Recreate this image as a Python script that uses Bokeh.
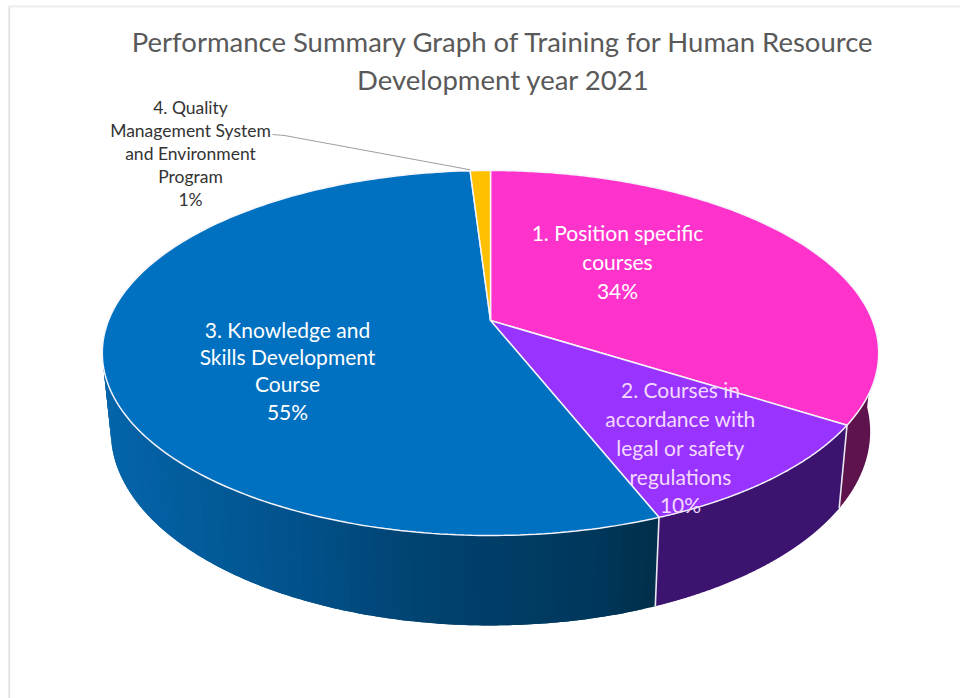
import numpy as np
from bokeh.plotting import figure
from bokeh.embed import file_html
from bokeh.resources import INLINE
from bokeh.core.properties import value

title_lines = ["Performance Summary Graph of Training for Human Resource", "Development year 2021"]
categories = ["1. Position specific courses",
              "2. Courses in accordance with legal or safety regulations",
              "3. Knowledge and Skills Development Course",
              "4. Quality Management System and Environment Program"]
shares = [34, 10, 55, 1]
label_lines = [["1. Position specific", "courses"],
               ["2. Courses in", "accordance with", "legal or safety", "regulations"],
               ["3. Knowledge and", "Skills Development", "Course"],
               ["4. Quality", "Management System", "and Environment", "Program"]]
top_colors = ["#ff33cc", "#9933ff", "#0070c0", "#ffc000"]
wall_colors = ["#5f134d", "#3c1470", None, None]

# Projection of the tilted pie (perspective), page pixels
CX, CY, RX, RY, K = 490.0, 320.0, 382.0, 176.7, 0.178
BX, BA, BB = 0.978, 56.8, 1.062


def top(theta):
    c, s = np.cos(theta), np.sin(theta)
    f = 1 / (1 + K * c)
    return CX + RX * s * f, CY - RY * c * f


def bottom(theta):
    x, y = top(theta)
    return CX + BX * (x - CX), BA + BB * y


def blue_shade(x):
    xs = [105, 200, 300, 400, 500, 600, 660]
    rs = [5, 3, 2, 1, 0, 0, 0]
    gs = [101, 92, 82, 70, 62, 56, 48]
    bs = [170, 155, 140, 118, 104, 92, 76]
    return "#%02x%02x%02x" % (int(np.interp(x, xs, rs)), int(np.interp(x, xs, gs)), int(np.interp(x, xs, bs)))


p = figure(width=960, height=698, x_range=(0, 960), y_range=(698, 0),
           output_backend="svg", toolbar_location=None, min_border=0,
           outline_line_color=None, background_fill_color="white")
p.axis.visible = False
p.grid.visible = False

# Frame of the picture
p.line([8.8, 8.8], [5.5, 698], line_color="#dedede", line_width=1.6)
p.line([8, 960], [5.8, 5.8], line_color="#eeeeee", line_width=2.2)

edges = np.cumsum([0] + shares) / sum(shares) * 2 * np.pi

# Side wall
for i in range(len(shares)):
    a0, a1 = edges[i], edges[i + 1]
    t = np.linspace(a0, a1, 360)
    t = t[np.cos(t) < -0.05]
    if len(t) < 2:
        continue
    xt, yt = top(t)
    xb, yb = bottom(t)
    if wall_colors[i]:
        p.patch(np.r_[xt, xb[::-1]], np.r_[yt, yb[::-1]], fill_color=wall_colors[i], line_color=None)
    else:
        # painted from the right to the left, each band overlapping the next one
        step = 3
        for j in range(0, len(t) - step, step):
            k = min(j + 2 * step, len(t) - 1)
            p.patch(np.r_[xt[j:k + 1], xb[j:k + 1][::-1]], np.r_[yt[j:k + 1], yb[j:k + 1][::-1]],
                    fill_color=blue_shade(xt[j]), line_color=None)

# White seams on the wall
for a in edges[1:3]:
    xt, yt = top(a)
    xb, yb = bottom(a)
    p.line([xt, xb], [yt, yb], line_color="#e8e8f0", line_width=1.6)

# Top face
for i in range(len(shares)):
    t = np.linspace(edges[i], edges[i + 1], 200)
    x, y = top(t)
    p.patch(np.r_[CX, x], np.r_[CY, y], fill_color=top_colors[i], line_color="#f4f4fa", line_width=1.5)

# Leader line
lx, ly = top(edges[3])
p.line([272, 284, lx], [134, 135, ly - 1], line_color="#a0a0a0", line_width=1.2)

# Texts
font = value("Lato")
p.text([503, 503], [40.5, 78.5], text=title_lines, text_font=font, text_font_size="27.5px",
       text_color="#595959", text_align="center", text_baseline="middle")

anchors = [(617, [232, 261, 290]), (680, [389, 418, 447, 476, 504]), (287, [329, 356, 383, 411])]
for idx, (ax, ays) in enumerate(anchors):
    lines = label_lines[idx] + [f"{shares[idx]}%"]
    p.text([ax] * len(lines), ays, text=lines, text_font=font, text_font_size="21px",
           text_color="#ffffff" if idx != 1 else "#f4d9ff", text_align="center", text_baseline="middle")

lines4 = label_lines[3] + [f"{shares[3]}%"]
p.text([190] * 5, [107, 130, 153, 176, 199], text=lines4, text_font=font, text_font_size="17.5px",
       text_color="#333333", text_align="center", text_baseline="middle")

open("out.html", "w").write(file_html(p, INLINE))
